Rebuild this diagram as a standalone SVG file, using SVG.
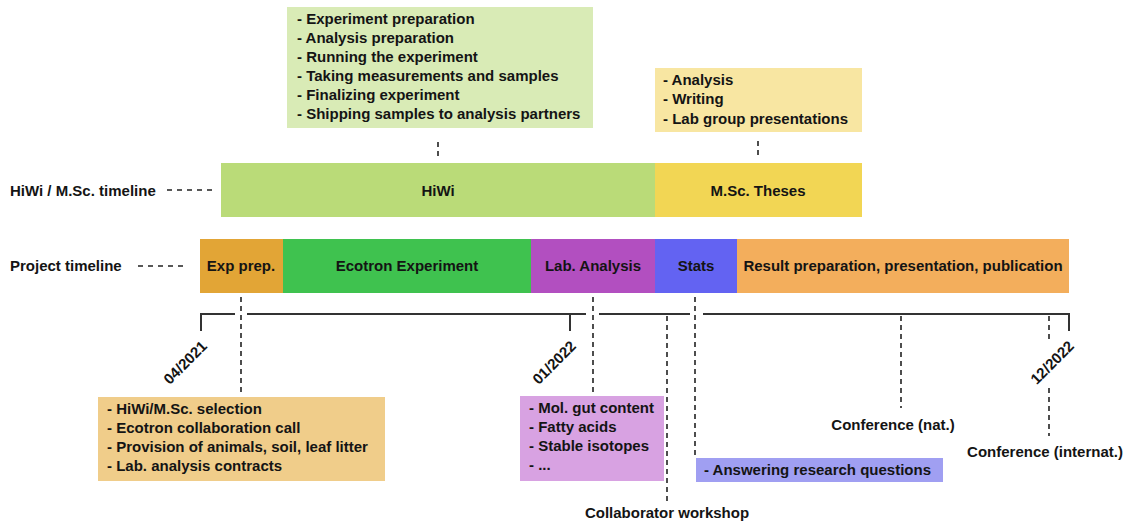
<svg xmlns="http://www.w3.org/2000/svg" width="1132" height="523" viewBox="0 0 1132 523">
<style>
text{font-family:"Liberation Sans",Arial,sans-serif;font-weight:bold;font-size:15px;fill:#141414}
.c{text-anchor:middle}
.d{stroke:#222;stroke-width:1.6;stroke-dasharray:5,4;fill:none}
.d2{stroke:#222;stroke-width:1.5;stroke-dasharray:5,5;fill:none}
.ax{stroke:#333;stroke-width:2;fill:none}
</style>
<rect width="1132" height="523" fill="#fff"/>
<g id="labels">
<text x="10" y="196">HiWi / M.Sc. timeline</text>
<text x="10" y="271">Project timeline</text>
</g>
<g id="note-hiwi">
<rect x="287" y="7" width="306" height="121" fill="#d9ebb6"/>
<text x="297" y="24">- Experiment preparation</text>
<text x="297" y="43">- Analysis preparation</text>
<text x="297" y="62">- Running the experiment</text>
<text x="297" y="81">- Taking measurements and samples</text>
<text x="297" y="100">- Finalizing experiment</text>
<text x="297" y="119">- Shipping samples to analysis partners</text>
</g>
<g id="note-msc">
<rect x="655" y="68" width="207" height="64" fill="#f8e6a2"/>
<text x="663" y="85">- Analysis</text>
<text x="663" y="104">- Writing</text>
<text x="663" y="124">- Lab group presentations</text>
</g>
<g id="bar-hiwi">
<rect x="221" y="163" width="434" height="54" fill="#badb78"/>
<text class="c" x="438" y="196">HiWi</text>
</g>
<g id="bar-msc">
<rect x="655" y="163" width="207" height="54" fill="#f2d654"/>
<text class="c" x="758" y="196">M.Sc. Theses</text>
</g>
<g id="bar-exp">
<rect x="200" y="239" width="83" height="54" fill="#e2a536"/>
<text class="c" x="241" y="271">Exp prep.</text>
</g>
<g id="bar-ecotron">
<rect x="283" y="239" width="248" height="54" fill="#3fc24f"/>
<text class="c" x="407" y="271">Ecotron Experiment</text>
</g>
<g id="bar-lab">
<rect x="531" y="239" width="124" height="54" fill="#b24fc0"/>
<text class="c" x="593" y="271">Lab. Analysis</text>
</g>
<g id="bar-stats">
<rect x="655" y="239" width="82" height="54" fill="#6363f2"/>
<text class="c" x="696" y="271">Stats</text>
</g>
<g id="bar-result">
<rect x="737" y="239" width="332" height="54" fill="#f3ae5c"/>
<text class="c" x="903" y="271">Result preparation, presentation, publication</text>
</g>
<g id="axis">
<path class="ax" d="M201 331V314H235M247 314H586M599 314H690M703 314H1069V331M570 314V331"/>
<text transform="translate(208,347) rotate(-45)" text-anchor="end">04/2021</text>
<text transform="translate(577,347) rotate(-45)" text-anchor="end">01/2022</text>
<text transform="translate(1075,347) rotate(-45)" text-anchor="end">12/2022</text>
</g>
<g id="note-exp">
<rect x="98" y="397" width="287" height="84" fill="#f0cd8a"/>
<text x="107" y="414">- HiWi/M.Sc. selection</text>
<text x="107" y="433">- Ecotron collaboration call</text>
<text x="107" y="452">- Provision of animals, soil, leaf litter</text>
<text x="107" y="471">- Lab. analysis contracts</text>
</g>
<g id="note-lab">
<rect x="520" y="396" width="144" height="85" fill="#d8a2e2"/>
<text x="529" y="413">- Mol. gut content</text>
<text x="529" y="432">- Fatty acids</text>
<text x="529" y="451">- Stable isotopes</text>
<text x="529" y="470">- ...</text>
</g>
<g id="note-stats">
<rect x="696" y="458" width="247" height="24" fill="#a09ff2"/>
<text x="704" y="475">- Answering research questions</text>
</g>
<g id="events">
<text class="c" x="667" y="518">Collaborator workshop</text>
<text class="c" x="893" y="430">Conference (nat.)</text>
<text class="c" x="1045" y="457">Conference (internat.)</text>
</g>
<g id="connectors">
<line class="d2" x1="167" y1="190" x2="212" y2="190"/>
<line class="d2" x1="138" y1="266" x2="184" y2="266"/>
<line class="d" x1="438" y1="142" x2="438" y2="158"/>
<line class="d" x1="758" y1="141" x2="758" y2="157"/>
<line class="d" x1="241" y1="297" x2="241" y2="392"/>
<line class="d" x1="593" y1="297" x2="593" y2="392"/>
<line class="d" x1="695" y1="297" x2="695" y2="455"/>
<line class="d" x1="667" y1="316" x2="667" y2="503"/>
<line class="d" x1="901" y1="316" x2="901" y2="408"/>
<path class="d" d="M1049 316V343M1049 388V436"/>
</g>
</svg>
